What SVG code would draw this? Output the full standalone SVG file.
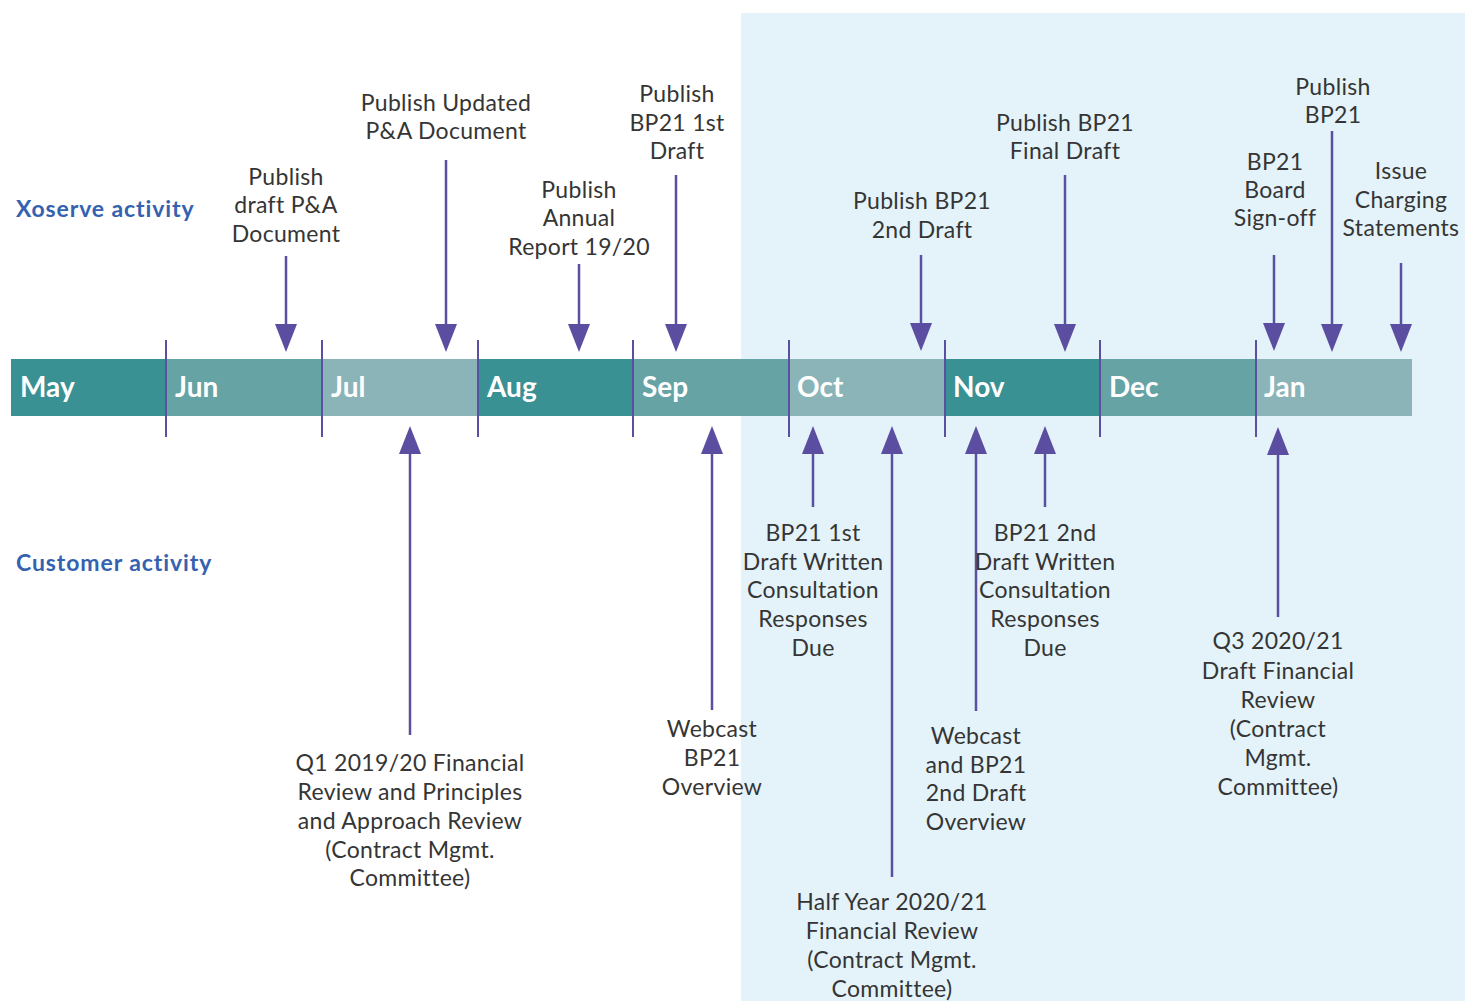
<svg xmlns="http://www.w3.org/2000/svg" width="1465" height="1001" viewBox="0 0 1465 1001">
<defs>
<style>
.lbl{font-family:Lato,"Noto Sans","Liberation Sans",sans-serif;font-size:23px;letter-spacing:0.3px;fill:#353535;text-anchor:middle}
.side{font-family:Lato,"Liberation Sans",sans-serif;font-size:23px;letter-spacing:0.9px;font-weight:bold;fill:#3562b0}
.mon{font-family:Lato,"Liberation Sans",sans-serif;font-size:28px;font-weight:bold;fill:#ffffff}
.div{stroke:#5b4fa0;stroke-width:2}
.arr{stroke:#5b4fa0;stroke-width:2.5;fill:none}
.head{fill:#5b4ea1}
</style>
</defs>
<rect x="0" y="0" width="1465" height="1001" fill="#ffffff"/>
<rect x="741" y="13" width="724" height="988" fill="#e4f3f9"/>
<g id="timeline">
<rect x="11" y="359" width="156" height="57" fill="#3a9193"/>
<rect x="166" y="359" width="156" height="57" fill="#66a3a5"/>
<rect x="322" y="359" width="156" height="57" fill="#8ab4b7"/>
<rect x="478" y="359" width="156" height="57" fill="#3a9193"/>
<rect x="633" y="359" width="156" height="57" fill="#66a3a5"/>
<rect x="789" y="359" width="156" height="57" fill="#8ab4b7"/>
<rect x="945" y="359" width="156" height="57" fill="#3a9193"/>
<rect x="1100" y="359" width="156" height="57" fill="#66a3a5"/>
<rect x="1256" y="359" width="156" height="57" fill="#8ab4b7"/>
<text class="mon" x="20" y="397">May</text>
<text class="mon" x="175" y="397">Jun</text>
<text class="mon" x="331" y="397">Jul</text>
<text class="mon" x="487" y="397">Aug</text>
<text class="mon" x="642" y="397">Sep</text>
<text class="mon" x="797" y="397">Oct</text>
<text class="mon" x="953" y="397">Nov</text>
<text class="mon" x="1109" y="397">Dec</text>
<text class="mon" x="1264" y="397">Jan</text>
<line class="div" x1="166" y1="340" x2="166" y2="437"/>
<line class="div" x1="322" y1="340" x2="322" y2="437"/>
<line class="div" x1="478" y1="340" x2="478" y2="437"/>
<line class="div" x1="633" y1="340" x2="633" y2="437"/>
<line class="div" x1="789" y1="340" x2="789" y2="437"/>
<line class="div" x1="945" y1="340" x2="945" y2="437"/>
<line class="div" x1="1100" y1="340" x2="1100" y2="437"/>
<line class="div" x1="1256" y1="340" x2="1256" y2="437"/>
</g>
<g id="row-labels">
<text class="side" x="16" y="217">Xoserve activity</text>
<text class="side" x="16" y="571">Customer activity</text>
</g>
<g id="connectors">
<line class="arr" x1="286" y1="256" x2="286" y2="330"/><polygon class="head" points="275,324 297,324 286,352"/>
<line class="arr" x1="446" y1="160" x2="446" y2="330"/><polygon class="head" points="435,324 457,324 446,352"/>
<line class="arr" x1="579" y1="264" x2="579" y2="330"/><polygon class="head" points="568,324 590,324 579,352"/>
<line class="arr" x1="676" y1="175" x2="676" y2="330"/><polygon class="head" points="665,324 687,324 676,352"/>
<line class="arr" x1="921" y1="255" x2="921" y2="330"/><polygon class="head" points="910,323 932,323 921,351"/>
<line class="arr" x1="1065" y1="175" x2="1065" y2="330"/><polygon class="head" points="1054,324 1076,324 1065,352"/>
<line class="arr" x1="1274" y1="255" x2="1274" y2="330"/><polygon class="head" points="1263,323 1285,323 1274,351"/>
<line class="arr" x1="1332" y1="131" x2="1332" y2="330"/><polygon class="head" points="1321,324 1343,324 1332,352"/>
<line class="arr" x1="1401" y1="263" x2="1401" y2="330"/><polygon class="head" points="1390,324 1412,324 1401,352"/>
<line class="arr" x1="410" y1="448" x2="410" y2="735"/><polygon class="head" points="399,454 421,454 410,426"/>
<line class="arr" x1="712" y1="448" x2="712" y2="710"/><polygon class="head" points="701,454 723,454 712,426"/>
<line class="arr" x1="813" y1="448" x2="813" y2="507"/><polygon class="head" points="802,454 824,454 813,426"/>
<line class="arr" x1="892" y1="448" x2="892" y2="877"/><polygon class="head" points="881,454 903,454 892,426"/>
<line class="arr" x1="976" y1="448" x2="976" y2="711"/><polygon class="head" points="965,454 987,454 976,426"/>
<line class="arr" x1="1045" y1="448" x2="1045" y2="507"/><polygon class="head" points="1034,454 1056,454 1045,426"/>
<line class="arr" x1="1278" y1="448" x2="1278" y2="617"/><polygon class="head" points="1267,455 1289,455 1278,427"/>
</g>
<g id="n-draft-pa"><text class="lbl" x="286" y="185">Publish</text><text class="lbl" x="286" y="213">draft P&amp;A</text><text class="lbl" x="286" y="242">Document</text></g>
<g id="n-updated-pa"><text class="lbl" x="446" y="111">Publish Updated</text><text class="lbl" x="446" y="139">P&amp;A Document</text></g>
<g id="n-annual"><text class="lbl" x="579" y="198">Publish</text><text class="lbl" x="579" y="226">Annual</text><text class="lbl" x="579" y="255">Report 19/20</text></g>
<g id="n-bp21-1st"><text class="lbl" x="677" y="102">Publish</text><text class="lbl" x="677" y="131">BP21 1st</text><text class="lbl" x="677" y="159">Draft</text></g>
<g id="n-bp21-2nd"><text class="lbl" x="922" y="209">Publish BP21</text><text class="lbl" x="922" y="238">2nd Draft</text></g>
<g id="n-bp21-final"><text class="lbl" x="1065" y="131">Publish BP21</text><text class="lbl" x="1065" y="159">Final Draft</text></g>
<g id="n-board"><text class="lbl" x="1275" y="170">BP21</text><text class="lbl" x="1275" y="198">Board</text><text class="lbl" x="1275" y="226">Sign-off</text></g>
<g id="n-publish-bp21"><text class="lbl" x="1333" y="95">Publish</text><text class="lbl" x="1333" y="123">BP21</text></g>
<g id="n-charging"><text class="lbl" x="1401" y="179">Issue</text><text class="lbl" x="1401" y="208">Charging</text><text class="lbl" x="1401" y="236">Statements</text></g>
<g id="n-q1"><text class="lbl" x="410" y="771">Q1 2019/20 Financial</text><text class="lbl" x="410" y="800">Review and Principles</text><text class="lbl" x="410" y="829">and Approach Review</text><text class="lbl" x="410" y="858">(Contract Mgmt.</text><text class="lbl" x="410" y="886">Committee)</text></g>
<g id="n-webcast1"><text class="lbl" x="712" y="737">Webcast</text><text class="lbl" x="712" y="766">BP21</text><text class="lbl" x="712" y="795">Overview</text></g>
<g id="n-resp1"><text class="lbl" x="813" y="541">BP21 1st</text><text class="lbl" x="813" y="570">Draft Written</text><text class="lbl" x="813" y="598">Consultation</text><text class="lbl" x="813" y="627">Responses</text><text class="lbl" x="813" y="656">Due</text></g>
<g id="n-halfyear"><text class="lbl" x="892" y="910">Half Year 2020/21</text><text class="lbl" x="892" y="939">Financial Review</text><text class="lbl" x="892" y="968">(Contract Mgmt.</text><text class="lbl" x="892" y="997">Committee)</text></g>
<g id="n-webcast2"><text class="lbl" x="976" y="744">Webcast</text><text class="lbl" x="976" y="773">and BP21</text><text class="lbl" x="976" y="801">2nd Draft</text><text class="lbl" x="976" y="830">Overview</text></g>
<g id="n-resp2"><text class="lbl" x="1045" y="541">BP21 2nd</text><text class="lbl" x="1045" y="570">Draft Written</text><text class="lbl" x="1045" y="598">Consultation</text><text class="lbl" x="1045" y="627">Responses</text><text class="lbl" x="1045" y="656">Due</text></g>
<g id="n-q3"><text class="lbl" x="1278" y="649">Q3 2020/21</text><text class="lbl" x="1278" y="679">Draft Financial</text><text class="lbl" x="1278" y="708">Review</text><text class="lbl" x="1278" y="737">(Contract</text><text class="lbl" x="1278" y="766">Mgmt.</text><text class="lbl" x="1278" y="795">Committee)</text></g>
</svg>
